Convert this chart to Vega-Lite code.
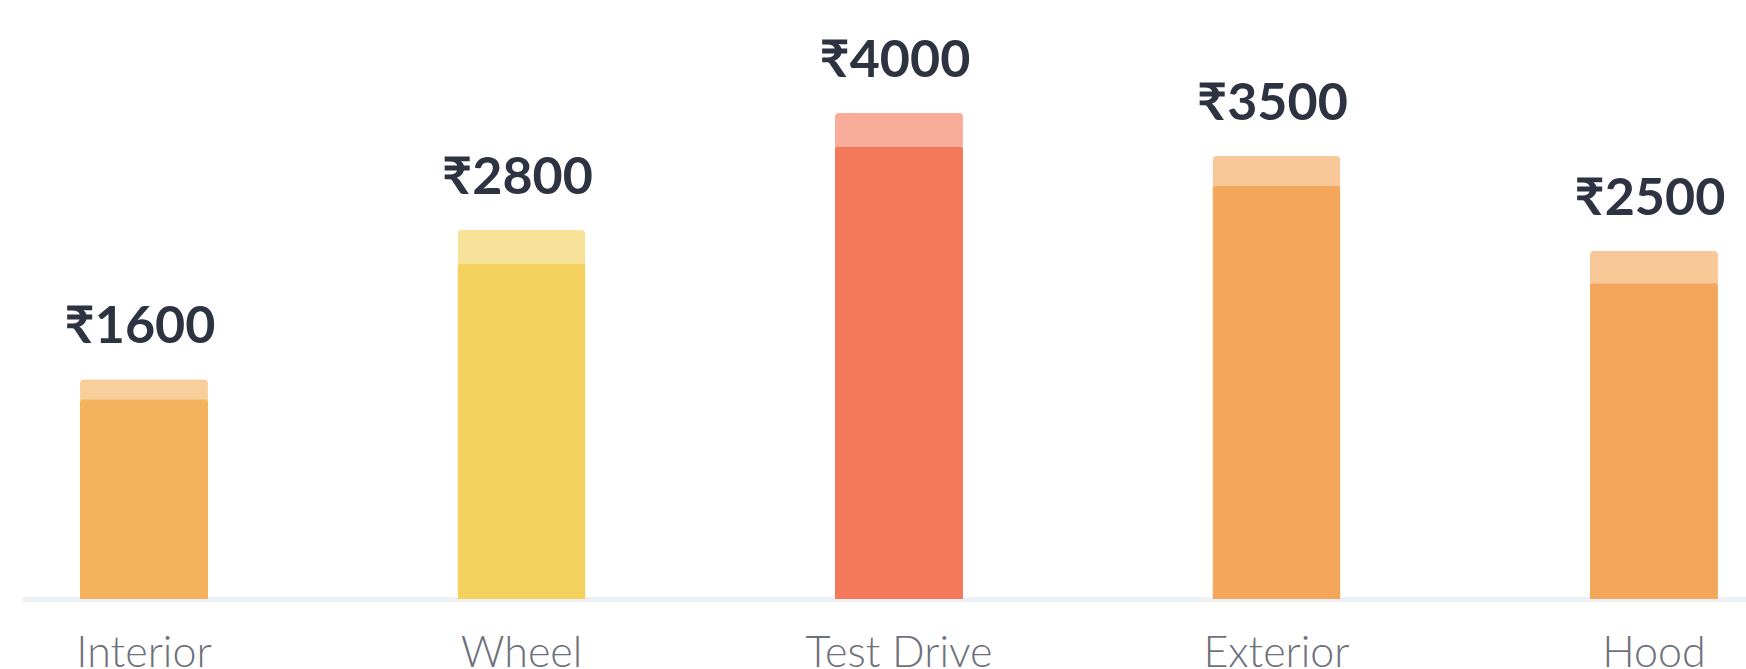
{
  "$schema": "https://vega.github.io/schema/vega-lite/v6.json",
  "width": 1724,
  "height": 599,
  "autosize": "none",
  "padding": {"left": 22, "top": 0, "right": 0, "bottom": 70},
  "background": "white",
  "config": {"view": {"stroke": null}},
  "data": {
    "values": [
      {"item": "Interior", "amount": 1600, "label": "₹1600", "total": 1834, "value": 1667},
      {"item": "Wheel", "amount": 2800, "label": "₹2800", "total": 3080, "value": 2796},
      {"item": "Test Drive", "amount": 4000, "label": "₹4000", "total": 4059, "value": 3775},
      {"item": "Exterior", "amount": 3500, "label": "₹3500", "total": 3698, "value": 3447},
      {"item": "Hood", "amount": 2500, "label": "₹2500", "total": 2905, "value": 2635}
    ]
  },
  "encoding": {
    "x": {
      "field": "item",
      "type": "nominal",
      "sort": null,
      "scale": {"paddingInner": 0.661, "paddingOuter": 0.114, "align": 0.674},
      "axis": {
        "title": null,
        "labelAngle": 0,
        "labelFontSize": 43,
        "labelFont": "Lato",
        "labelFontWeight": 300,
        "labelColor": "#6e717c",
        "labelBaseline": "alphabetic",
        "labelPadding": 67,
        "labelLimit": 0,
        "labelOverlap": false,
        "ticks": false,
        "tickSize": 0,
        "domainColor": "#edf1f5",
        "domainWidth": 5,
        "grid": false
      }
    },
    "color": {
      "field": "item",
      "type": "nominal",
      "scale": {
        "domain": ["Interior", "Wheel", "Test Drive", "Exterior", "Hood"],
        "range": ["#f4b25c", "#f4d15c", "#f4795b", "#f4a75b", "#f4a75b"]
      },
      "legend": null
    }
  },
  "layer": [
    {
      "mark": {"type": "bar", "opacity": 0.62, "cornerRadiusTopLeft": 4, "cornerRadiusTopRight": 4},
      "encoding": {
        "y": {"field": "total", "type": "quantitative", "scale": {"domain": [0, 5000]}, "axis": null}
      }
    },
    {
      "mark": {"type": "bar", "cornerRadiusTopLeft": 3, "cornerRadiusTopRight": 3},
      "encoding": {
        "y": {"field": "value", "type": "quantitative"}
      }
    },
    {
      "mark": {"type": "text", "dy": -36, "dx": -4, "baseline": "alphabetic", "fontSize": 52, "font": "Lato", "fontWeight": 700},
      "encoding": {
        "y": {"field": "total", "type": "quantitative"},
        "text": {"field": "label"},
        "color": {"value": "#2d3340"}
      }
    }
  ]
}
